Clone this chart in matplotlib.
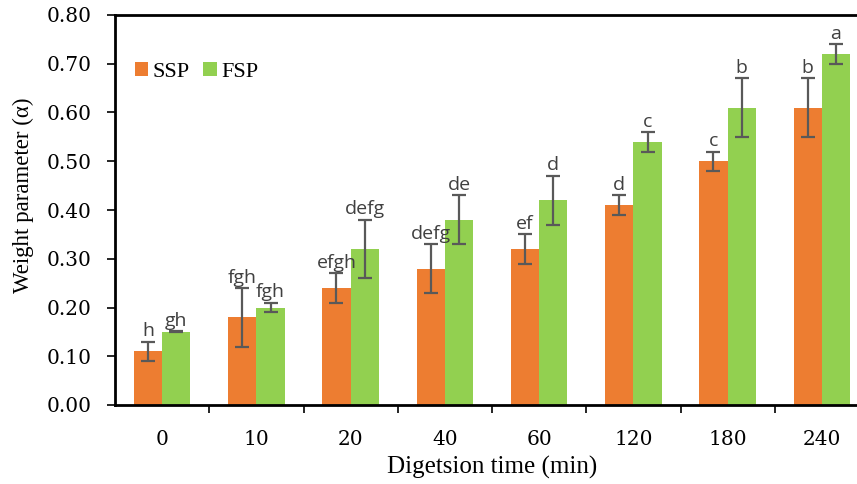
import matplotlib
matplotlib.use("Agg")
import matplotlib.pyplot as plt
import numpy as np

times = ["0", "10", "20", "40", "60", "120", "180", "240"]
ssp = [0.11, 0.18, 0.24, 0.28, 0.32, 0.41, 0.50, 0.61]
ssp_err = [0.02, 0.06, 0.03, 0.05, 0.03, 0.02, 0.02, 0.06]
fsp = [0.15, 0.20, 0.32, 0.38, 0.42, 0.54, 0.61, 0.72]
fsp_err = [0.001, 0.01, 0.06, 0.05, 0.05, 0.02, 0.06, 0.02]
ssp_lab = ["h", "fgh", "efgh", "defg", "ef", "d", "c", "b"]
fsp_lab = ["gh", "fgh", "defg", "de", "d", "c", "b", "a"]

serif = "DejaVu Serif"
times_font = "Liberation Serif"
sans = "Open Sans"

fig = plt.figure(figsize=(8.57, 4.84), dpi=100)
ax = fig.add_axes([115/857, 79/484, 754/857, 390/484])

x = np.arange(len(times))
w = 0.3
ekw = dict(ecolor="#595959", elinewidth=1.6, capthick=1.6, capsize=5)
ax.bar(x - w/2, ssp, w, color="#ED7D31", label="SSP", yerr=ssp_err, error_kw=ekw)
ax.bar(x + w/2, fsp, w, color="#92D050", label="FSP", yerr=fsp_err, error_kw=ekw)

for i in range(len(times)):
    ax.text(x[i] - w/2, ssp[i] + ssp_err[i] + 0.003, ssp_lab[i], ha="center", va="bottom",
            fontsize=14, color="#404040", family=sans)
    ax.text(x[i] + w/2, fsp[i] + fsp_err[i] + 0.003, fsp_lab[i], ha="center", va="bottom",
            fontsize=14, color="#404040", family=sans)

ax.set_xlim(-0.5, 7.5)
ax.set_ylim(0, 0.8)
ax.set_yticks(np.arange(0, 0.81, 0.1))
ax.set_yticklabels(["%.2f" % v for v in np.arange(0, 0.81, 0.1)], family=serif, fontsize=14.5)
ax.set_xticks(x)
ax.set_xticklabels(times, family=serif, fontsize=14.5)
ax.tick_params(axis="x", which="major", length=0, pad=18)
ax.set_xticks(np.arange(0.5, 7.5, 1), minor=True)
ax.tick_params(axis="x", which="minor", length=6, width=1.2, direction="out")
ax.tick_params(axis="y", length=6, width=1.2, direction="out", pad=11)

for s in ["left", "bottom", "top"]:
    ax.spines[s].set_linewidth(2)
ax.spines["right"].set_visible(False)

ax.set_ylabel("Weight parameter (α)", family=times_font, fontsize=16.5)
ax.yaxis.set_label_coords(-0.108, 0.538)
ax.set_xlabel("Digetsion time (min)", family=times_font, fontsize=18, labelpad=5)

ax.legend(loc="upper left", bbox_to_anchor=(0.0, 0.93), ncol=2, frameon=False,
          prop={"family": times_font, "size": 16}, handlelength=0.6, handleheight=0.6,
          handletextpad=0.2, columnspacing=0.6)

fig.savefig("out.png", dpi=100)
